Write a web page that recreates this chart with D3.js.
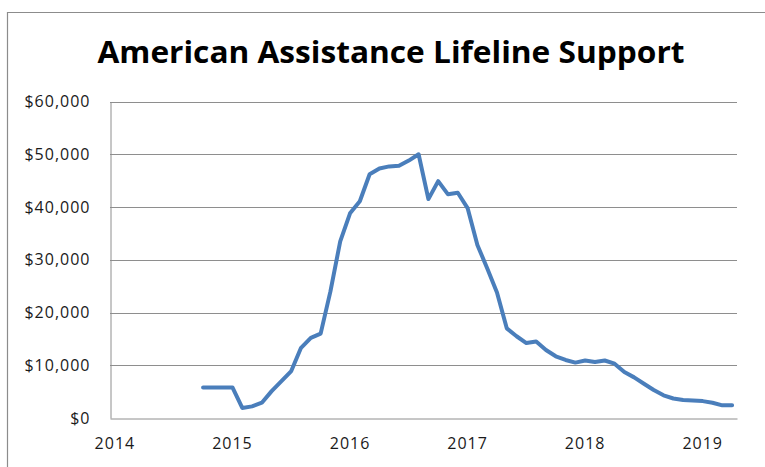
<!DOCTYPE html>
<html>
<head>
<meta charset="utf-8">
<script src="https://cdn.jsdelivr.net/npm/d3@7"></script>
<style>
  body { margin: 0; background: #fff; }
  svg { display: block; }
</style>
</head>
<body>
<div id="chart"></div>
<script>
// monthly values, Oct 2014 .. Apr 2019
var months = ["2014-10","2014-11","2014-12",
              "2015-01","2015-02","2015-03","2015-04","2015-05","2015-06","2015-07","2015-08","2015-09","2015-10","2015-11","2015-12",
              "2016-01","2016-02","2016-03","2016-04","2016-05","2016-06","2016-07","2016-08","2016-09","2016-10","2016-11","2016-12",
              "2017-01","2017-02","2017-03","2017-04","2017-05","2017-06","2017-07","2017-08","2017-09","2017-10","2017-11","2017-12",
              "2018-01","2018-02","2018-03","2018-04","2018-05","2018-06","2018-07","2018-08","2018-09","2018-10","2018-11","2018-12",
              "2019-01","2019-02","2019-03","2019-04"];
var support = [5800, 5800, 5800,
               5800, 1900, 2200, 2900, 5100, 7000, 8900, 13300, 15200, 16000, 24000, 33500,
               38800, 41100, 46200, 47300, 47700, 47800, 48800, 50000, 41500, 44900, 42400, 42700,
               39800, 32800, 28400, 23800, 17000, 15500, 14200, 14500, 12900, 11700, 11000, 10500,
               10900, 10600, 10900, 10300, 8700, 7700, 6500, 5300, 4300, 3700, 3400, 3300,
               3200, 2900, 2400, 2400];
var yearLabels = ["2014", "2015", "2016", "2017", "2018", "2019"];
var yTicks = [0, 10000, 20000, 30000, 40000, 50000, 60000];
var axisStart = "2014-01", axisEnd = "2019-04";

var width = 765, height = 467;
var plotLeft = 110, plotRight = 737, plotTop = 101.5, plotBottom = 418;

var svg = d3.select("#chart").append("svg")
            .attr("width", width)
            .attr("height", height);

// chart frame (only top & left edges are visible in the window)
svg.append("path")
   .attr("d", "M7.5," + (height + 5) + "V12.5H" + (width + 5))
   .attr("fill", "none")
   .attr("stroke", "#8c8c8c")
   .attr("stroke-width", 1.2);

svg.append("text")
   .attr("x", 391)
   .attr("y", 63)
   .attr("text-anchor", "middle")
   .attr("font-family", "Open Sans")
   .attr("font-weight", "bold")
   .attr("font-size", 30)
   .attr("textLength", 587)
   .attr("lengthAdjust", "spacingAndGlyphs")
   .attr("fill", "#000")
   .text("American Assistance Lifeline Support");

var fmt = d3.timeFormat("%Y-%m");
var allMonths = d3.timeMonth.range(new Date(axisStart + "-01T00:00"), d3.timeMonth.offset(new Date(axisEnd + "-01T00:00"), 1)).map(fmt);

var x = d3.scaleBand()
          .domain(allMonths)
          .range([plotLeft, plotRight]);

var y = d3.scaleLinear()
          .domain([0, 60000])
          .range([plotBottom, plotTop]);

// gridlines
svg.append("g")
   .selectAll("line")
   .data(yTicks.filter(function(d) { return d > 0; }))
   .enter()
   .append("line")
   .attr("x1", plotLeft)
   .attr("x2", plotRight)
   .attr("y1", function(d) { return Math.round(y(d)) + 0.5; })
   .attr("y2", function(d) { return Math.round(y(d)) + 0.5; })
   .attr("stroke", "#8e8e8e")
   .attr("stroke-width", 1);

var yAxis = svg.append("g")
   .attr("transform", "translate(" + (plotLeft + 0.5) + ",0)")
   .call(d3.axisLeft(y).tickValues(yTicks).tickFormat(d3.format("$,")).tickSize(0).tickPadding(20));

var xAxis = svg.append("g")
   .attr("transform", "translate(0," + (Math.round(plotBottom) + 0.5) + ")")
   .call(d3.axisBottom(x)
           .tickValues(yearLabels.map(function(d) { return d + "-01"; }))
           .tickFormat(function(d) { return d.slice(0, 4); })
           .tickSize(0)
           .tickPadding(19));

[yAxis, xAxis].forEach(function(g) {
  g.select(".domain").attr("stroke", "#8e8e8e").attr("stroke-width", 1);
  g.selectAll("text")
   .attr("font-family", "Open Sans")
   .attr("font-size", 16)
   .attr("letter-spacing", 1)
   .attr("fill", "#1a1a1a");
});

var line = d3.line()
             .x(function(d, i) { return x(months[i]) + x.bandwidth() / 2; })
             .y(function(d) { return y(d); });

svg.append("path")
   .datum(support)
   .attr("d", line)
   .attr("fill", "none")
   .attr("stroke", "#4a7ebb")
   .attr("stroke-width", 4)
   .attr("stroke-linejoin", "round")
   .attr("stroke-linecap", "round");
</script>
</body>
</html>
